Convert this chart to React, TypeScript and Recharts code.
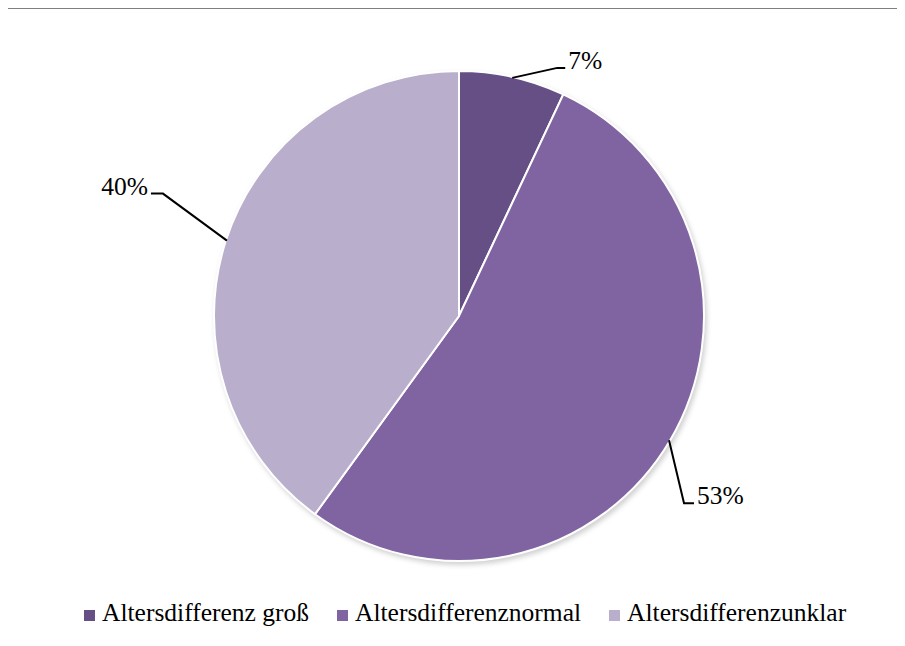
import React from 'react'
import { PieChart, Pie, Cell } from 'recharts'

const kategorien = ['Altersdifferenz groß', 'Altersdifferenz normal', 'Altersdifferenz unklar']
const legendeTexte = ['Altersdifferenz groß', 'Altersdifferenznormal', 'Altersdifferenzunklar']
const anteile = [7, 53, 40]
const farben = ['#654f85', '#8064a2', '#b9aecb']

// Knick der Führungslinie relativ zum Rand des Segments, dann waagrechtes Stück
const fuehrung = [
  { dx: 45, dy: -10, h: 8 },
  { dx: 15, dy: 63, h: 10 },
  { dx: -64, dy: -47, h: -12 },
]

const daten = kategorien.map((name, i) => ({ name, value: anteile[i] }))
const schatten = [{ name: 'schatten', value: 100 }]

const RADIAN = Math.PI / 180
const schrift = "'Liberation Serif', serif"

const renderLabel = (props: any) => {
  const { cx, cy, midAngle, outerRadius, index, value } = props
  const f = fuehrung[index]
  const sx = cx + (outerRadius - 1) * Math.cos(-midAngle * RADIAN)
  const sy = cy + (outerRadius - 1) * Math.sin(-midAngle * RADIAN)
  const kx = sx + f.dx
  const ky = sy + f.dy
  const ex = kx + f.h
  const rechts = f.h > 0
  return (
    <g key={`label-${index}`}>
      <polyline
        points={`${sx},${sy} ${kx},${ky} ${ex},${ky}`}
        fill="none"
        stroke="#000"
        strokeWidth={2}
      />
      <text
        x={ex + (rechts ? 3 : -3)}
        y={ky + 1}
        textAnchor={rechts ? 'start' : 'end'}
        fontFamily={schrift}
        fontSize={25.5}
        fill="#000"
      >
        {`${value}%`}
      </text>
    </g>
  )
}

export default function App() {
  return (
    <div
      style={{
        position: 'relative',
        width: 900,
        height: 640,
        marginLeft: -3,
        marginTop: -2,
        fontFamily: schrift,
      }}
    >
      <svg width={0} height={0} style={{ position: 'absolute' }}>
        <defs>
          <filter id="pieSchatten" x="-10%" y="-10%" width="120%" height="120%">
            <feGaussianBlur stdDeviation={2.5} />
          </filter>
        </defs>
      </svg>
      <div
        style={{
          position: 'absolute',
          left: 0,
          top: 0,
          width: 900,
          height: 640,
          boxSizing: 'border-box',
          borderTop: '3px solid #808080',
          borderLeft: '3px solid #808080',
        }}
      />
      <div style={{ position: 'absolute', left: 3, top: 2 }}>
        <PieChart width={897} height={638} margin={{ top: 0, right: 0, bottom: 0, left: 0 }}>
          <Pie
            data={schatten}
            dataKey="value"
            cx={453}
            cy={311}
            outerRadius={246}
            stroke="none"
            isAnimationActive={false}
            legendType="none"
          >
            <Cell fill="#000" fillOpacity={0.18} filter="url(#pieSchatten)" />
          </Pie>
          <Pie
            data={daten}
            dataKey="value"
            nameKey="name"
            cx={451}
            cy={308}
            outerRadius={245}
            startAngle={90}
            endAngle={-270}
            stroke="#fff"
            strokeWidth={2}
            label={renderLabel}
            labelLine={false}
            isAnimationActive={false}
          >
            {daten.map((d, i) => (
              <Cell key={d.name} fill={farben[i]} />
            ))}
          </Pie>
        </PieChart>
      </div>
      <div
        style={{
          position: 'absolute',
          left: 79,
          top: 592,
          display: 'flex',
          alignItems: 'center',
          gap: 28,
          fontSize: 25.5,
          lineHeight: '30px',
          color: '#000',
          whiteSpace: 'nowrap',
        }}
      >
        {legendeTexte.map((t, i) => (
          <div key={t} style={{ display: 'flex', alignItems: 'center' }}>
            <span
              style={{
                display: 'inline-block',
                width: 11,
                height: 11,
                background: farben[i],
                marginRight: 7,
                marginTop: 4,
              }}
            />
            <span>{t}</span>
          </div>
        ))}
      </div>
    </div>
  )
}
